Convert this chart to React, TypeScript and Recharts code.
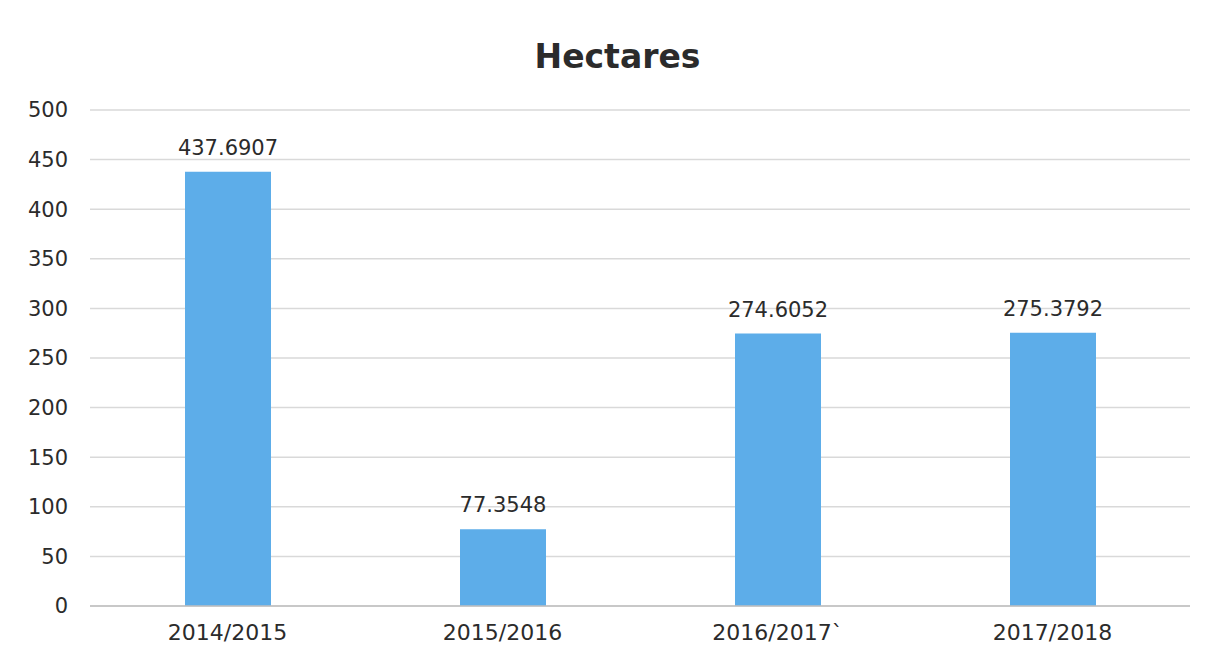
import React from 'react';
import { BarChart, Bar, XAxis, YAxis, CartesianGrid, LabelList } from 'recharts';

const categories = ['2014/2015', '2015/2016', '2016/2017`', '2017/2018'];
const hectares = [437.6907, 77.3548, 274.6052, 275.3792];
const yTicks = [0, 50, 100, 150, 200, 250, 300, 350, 400, 450, 500];

const data = categories.map((c, i) => ({ name: c, value: hectares[i] }));

const FONT = '"DejaVu Sans", Verdana, sans-serif';

export default function App() {
  return (
    <div style={{ position: 'absolute', left: 0, top: 0, width: 1209, height: 663, background: '#fff', fontFamily: FONT }}>
      <div style={{ position: 'absolute', left: 26, width: 1183, top: 35, textAlign: 'center', fontSize: 33, fontWeight: 'bold', color: '#2b2b2b', lineHeight: '44px' }}>
        Hectares
      </div>
      <BarChart width={1209} height={663} data={data} margin={{ top: 110, right: 19, left: 0, bottom: 0 }}>
        <CartesianGrid vertical={false} stroke="#d9d9d9" strokeWidth={1.5} />
        <XAxis
          dataKey="name"
          height={57}
          tickLine={false}
          axisLine={{ stroke: '#bfbfbf', strokeWidth: 1.5 }}
          tick={{ fill: '#2b2b2b', fontSize: 22, fontFamily: FONT }}
          tickMargin={12}
          interval={0}
        />
        <YAxis
          width={90}
          domain={[0, 500]}
          ticks={yTicks}
          tickLine={false}
          axisLine={false}
          tick={{ fill: '#2b2b2b', fontSize: 21, fontFamily: FONT }}
          tickMargin={16}
          interval={0}
        />
        <Bar dataKey="value" fill="#5DADE9" barSize={86} isAnimationActive={false}>
          <LabelList dataKey="value" position="top" offset={17} fill="#2b2b2b" fontSize={21} fontFamily={FONT} />
        </Bar>
      </BarChart>
    </div>
  );
}
